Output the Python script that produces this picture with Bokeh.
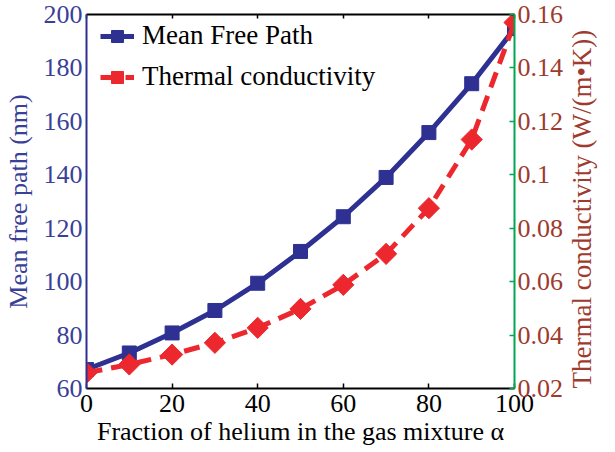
from bokeh.plotting import figure
from bokeh.models import (Range1d, LinearAxis, FixedTicker, CustomJSTickFormatter,
                          Legend, LegendItem)
from bokeh.embed import file_html
from bokeh.resources import INLINE
import numpy as np

# ---- data ----
alpha = [0, 10, 20, 30, 40, 50, 60, 70, 80, 90, 100]
mean_free_path = [67.1, 73.3, 80.8, 89.2, 99.4, 111.3, 124.3, 139.0, 155.8, 174.1, 194.7]
thermal_cond = [0.0259, 0.0290, 0.0327, 0.0371, 0.0427, 0.0498, 0.0588, 0.0704, 0.0875, 0.1132, 0.1570]

x_ticks = [0, 20, 40, 60, 80, 100]
left_ticks = [60, 80, 100, 120, 140, 160, 180, 200]
right_ticks = [0.02, 0.04, 0.06, 0.08, 0.10, 0.12, 0.14, 0.16]

x_title = "Fraction of helium in the gas mixture \u03b1"
left_title = "Mean free path (nm)"
right_title = "Thermal conductivity (W/(m\u2022K))"
series_names = ["Mean Free Path", "Thermal conductivity"]

# ---- styles ----
FONT = "Liberation Serif"
FS = "26px"
BLUE = "#2E3192"
BLUE_TXT = "#3A3F98"
RED = "#EC282E"
BROWN = "#9E3A2E"
GREEN = "#00A651"

p = figure(width=615, height=452, x_range=Range1d(0, 100), y_range=Range1d(60, 200),
           output_backend="svg", toolbar_location=None,
           x_axis_location=None, y_axis_location=None,
           min_border_left=86, min_border_right=87, min_border_top=14, min_border_bottom=64)
p.outline_line_color = None
p.xgrid.visible = False
p.ygrid.visible = False
p.extra_y_ranges = {"tc": Range1d(0.02, 0.16)}

# bottom axis
xb = LinearAxis(ticker=FixedTicker(ticks=x_ticks), axis_label=x_title)
xb.axis_line_color = "black"
xb.axis_line_width = 2
xb.major_tick_in = 5
xb.major_tick_out = 0
xb.major_tick_line_color = "black"
xb.major_tick_line_width = 1.5
xb.minor_tick_line_color = None
xb.major_label_text_font = FONT
xb.major_label_text_font_size = FS
xb.major_label_text_color = "black"
xb.major_label_standoff = 6
xb.axis_label_text_font = FONT
xb.axis_label_text_font_size = FS
xb.axis_label_text_font_style = "normal"
xb.axis_label_text_color = "black"
xb.axis_label_standoff = 2
p.add_layout(xb, "below")

# top axis (ticks only)
xt = LinearAxis(ticker=FixedTicker(ticks=x_ticks),
                formatter=CustomJSTickFormatter(code="return '';"))
xt.axis_line_color = "black"
xt.axis_line_width = 2
xt.major_tick_in = 4
xt.major_tick_out = 0
xt.major_tick_line_color = "black"
xt.major_tick_line_width = 1.5
xt.minor_tick_line_color = None
xt.major_label_standoff = 0
p.add_layout(xt, "above")

# left axis
yl = LinearAxis(ticker=FixedTicker(ticks=left_ticks), axis_label=left_title)
yl.axis_line_color = BLUE
yl.axis_line_width = 2
yl.major_tick_line_color = None
yl.minor_tick_line_color = None
yl.major_tick_out = 0
yl.major_tick_in = 0
yl.major_label_text_font = FONT
yl.major_label_text_font_size = FS
yl.major_label_text_color = BLUE_TXT
yl.major_label_standoff = 4
yl.axis_label_text_font = FONT
yl.axis_label_text_font_size = FS
yl.axis_label_text_font_style = "normal"
yl.axis_label_text_color = BLUE_TXT
yl.axis_label_standoff = 8
p.add_layout(yl, "left")

# right axis
yr = LinearAxis(y_range_name="tc", ticker=FixedTicker(ticks=right_ticks), axis_label=right_title,
                formatter=CustomJSTickFormatter(code="return String(parseFloat(tick.toFixed(2)));"))
yr.axis_line_color = GREEN
yr.axis_line_width = 2
yr.major_tick_line_color = GREEN
yr.major_tick_line_width = 1.5
yr.minor_tick_line_color = None
yr.major_tick_out = 0
yr.major_tick_in = 5
yr.major_label_text_font = FONT
yr.major_label_text_font_size = FS
yr.major_label_text_color = BROWN
yr.major_label_standoff = 3
yr.axis_label_text_font = FONT
yr.axis_label_text_font_size = "27px"
yr.axis_label_text_font_style = "normal"
yr.axis_label_text_color = BROWN
yr.axis_label_text_line_height = 0.4
yr.axis_label_standoff = 16
yr.axis_label_orientation = np.pi / 2
yr.axis_label_align = "start"
p.add_layout(yr, "right")

# series
l1 = p.line(alpha, mean_free_path, line_color=BLUE, line_width=5)
s1 = p.scatter(alpha, mean_free_path, marker="square", size=14, fill_color=BLUE, line_color=BLUE)
l2 = p.line(alpha, thermal_cond, y_range_name="tc", line_color=RED, line_width=5, line_dash="16 9")
s2 = p.scatter(alpha, thermal_cond, y_range_name="tc", marker="square", angle=np.pi / 4,
               size=15, fill_color=RED, line_color=RED)

legend = Legend(items=[LegendItem(label=series_names[0], renderers=[l1, s1]),
                       LegendItem(label=series_names[1], renderers=[l2, s2])])
legend.location = (14, 296)
legend.margin = 0
legend.padding = 3
legend.spacing = 10
legend.glyph_width = 34
legend.glyph_height = 30
legend.label_standoff = 8
legend.label_text_font = FONT
legend.label_text_font_size = "27px"
legend.label_text_color = "black"
legend.background_fill_alpha = 0
legend.border_line_color = None
p.add_layout(legend, "center")

open("out.html", "w").write(file_html(p, INLINE))
